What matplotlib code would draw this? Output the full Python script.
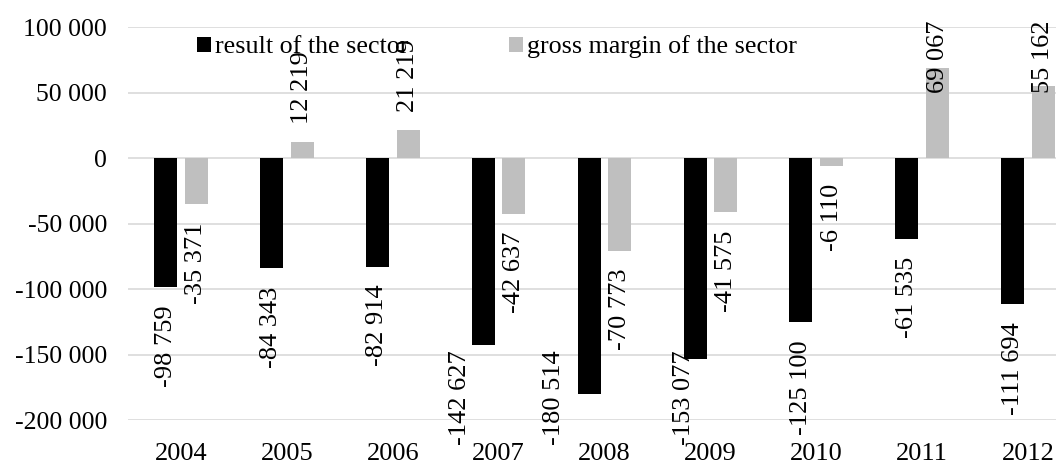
import matplotlib
matplotlib.use("Agg")
import matplotlib.pyplot as plt
from matplotlib.ticker import FuncFormatter, MultipleLocator
from matplotlib.patches import Patch
import numpy as np

years = ["2004", "2005", "2006", "2007", "2008", "2009", "2010", "2011", "2012"]
result_of_sector = [-98759, -84343, -82914, -142627, -180514, -153077, -125100, -61535, -111694]
gross_margin = [-35371, 12219, 21219, -42637, -70773, -41575, -6110, 69067, 55162]
series_names = ["result of the sector", "gross margin of the sector"]

plt.rcParams["font.family"] = ["Liberation Serif", "DejaVu Serif"]

W, H, DPI = 1056, 461, 100
BLACK, GREY, GRID = "#000000", "#bfbfbf", "#d9d9d9"

fig = plt.figure(figsize=(W / DPI, H / DPI), dpi=DPI)
ax = fig.add_axes([128 / W, 41 / H, (1081 - 128) / W, (420 - 27) / H])

x = np.arange(len(years))
bar_w, shift = 0.217, 0.145
ax.bar(x - shift, result_of_sector, width=bar_w, color=BLACK, zorder=2)
ax.bar(x + shift, gross_margin, width=bar_w, color=GREY, zorder=2)

ax.set_xlim(-0.5, len(years) - 0.5)
ax.set_ylim(-200000, 100000)
ax.yaxis.set_major_locator(MultipleLocator(50000))
ax.yaxis.set_major_formatter(FuncFormatter(lambda v, _: f"{v:,.0f}".replace(",", " ")))
ax.set_xticks(x)
ax.set_xticklabels(years)
ax.tick_params(axis="y", length=0, pad=15, labelsize=18.5)
ax.tick_params(axis="x", length=0, pad=16.5, labelsize=19)
ax.yaxis.grid(True, color=GRID, lw=1.2)
ax.set_axisbelow(True)
for s in ax.spines.values():
    s.set_visible(False)

handles = [Patch(facecolor=BLACK), Patch(facecolor=GREY)]
ax.legend(handles, series_names, ncol=2, loc="center",
          bbox_to_anchor=(497 / W, 1 - 47 / H), bbox_transform=fig.transFigure,
          frameon=False, fontsize=18.7, handlelength=0.54, handleheight=0.54,
          handletextpad=0.15, columnspacing=3.9, borderpad=0, borderaxespad=0)

# value labels, rotated, just beyond the end of each bar
gap = 13
labels = []
for xs, vals in ((x - shift, result_of_sector), (x + shift, gross_margin)):
    for xi, v in zip(xs, vals):
        t = f"{v:,}".replace(",", " ")
        ann = ax.annotate(t, xy=(xi, v), xytext=(0, -gap if v < 0 else gap),
                          textcoords="offset points", rotation=90, ha="center",
                          va="top" if v < 0 else "bottom", fontsize=19,
                          annotation_clip=False, zorder=6)
        labels.append(ann)

# labels that run off the chart area are pulled back inside, some nudged sideways
side_nudge = {3: -17, 4: -25, 5: -8}
fig.canvas.draw()
low_px, high_px = H - 445, H - 20
for i, ann in enumerate(labels):
    bb = ann.get_window_extent()
    dx, dy = ann.xyann
    if bb.y0 < low_px:
        dy += (low_px - bb.y0) * 72 / DPI
    if bb.y1 > high_px:
        dy -= (bb.y1 - high_px) * 72 / DPI
    dx += side_nudge.get(i, 0)
    ann.xyann = (dx, dy)

fig.savefig("out.png", dpi=DPI)
